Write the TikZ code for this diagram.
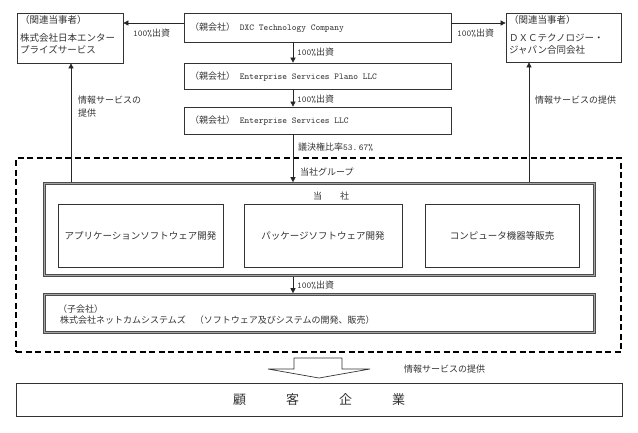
\documentclass[tikz,border=0pt]{standalone}
\usepackage{fontspec}
\setmainfont{Noto Sans CJK JP}
\usetikzlibrary{arrows.meta}
\newcommand{\lt}[1]{{\ttfamily #1}}
\tikzset{
  bx/.style={draw=black!80, line width=0.7pt, inner sep=0pt},
  frm/.style={draw=black!70, line width=0.6pt, double=black!35, double distance=1.2pt, inner sep=0pt},
  arr/.style={draw=black!85, line width=0.6pt, -{Triangle[length=5pt,width=5pt]}},
  lab/.style={font=\fontsize{9}{13}\selectfont, text=black!80, inner sep=0pt, anchor=west},
  txt/.style={font=\fontsize{9.5}{12}\selectfont, text=black!80, inner sep=0pt},
}
\begin{document}
\begin{tikzpicture}[x=1pt,y=-1pt]
\useasboundingbox (0,0) rectangle (638,432);
% boxes
\node[bx, minimum width=106pt, minimum height=50pt] (rel1) at (70,38) {};
\node[bx, minimum width=115pt, minimum height=49pt] (rel2) at (563.5,37.5) {};
\node[bx, minimum width=267pt, minimum height=29pt] (dxc) at (317.5,27.5) {};
\node[bx, minimum width=267pt, minimum height=26pt] (plano) at (317.5,76) {};
\node[bx, minimum width=267pt, minimum height=27pt] (esl) at (317.5,120.5) {};
\node[draw=black, line width=1.3pt, dash pattern=on 6pt off 3.5pt, minimum width=605pt, minimum height=194pt, inner sep=0pt] (grp) at (318.5,255) {};
\node[frm, minimum width=550pt, minimum height=92pt] (tosha) at (319.5,229.5) {};
\node[bx, minimum width=165pt, minimum height=63pt, txt] (b1) at (140.5,235.5) {アプリケーションソフトウェア開発};
\node[bx, minimum width=158pt, minimum height=63pt, txt] (b2) at (323,235.5) {パッケージソフトウェア開発};
\node[bx, minimum width=154pt, minimum height=63pt, txt] (b3) at (502,235.5) {コンピュータ機器等販売};
\node[frm, minimum width=550pt, minimum height=38pt] (sub) at (319.5,313.5) {};
\node[bx, minimum width=606pt, minimum height=33pt, font=\fontsize{13}{15}\selectfont, text=black!80] (cust) at (319,399.5) {顧\hspace{40pt}客\hspace{40pt}企\hspace{40pt}業};
% box texts
\node[txt, anchor=west] (t1a) at (20,20) {（関連当事者）};
\node[txt, anchor=west, align=left] (t1b) at (20,43.5) {株式会社日本エンター\\プライズサービス};
\node[txt, anchor=west] (t2a) at (509,20) {（関連当事者）};
\node[txt, anchor=west, align=left] (t2b) at (509,44.5) {ＤＸＣテクノロジー・\\ジャパン合同会社};
\node[lab, font=\fontsize{9}{11}\selectfont] (t3) at (190,28) {（親会社）\lt{ DXC Technology Company}};
\node[lab, font=\fontsize{9}{11}\selectfont] (t4) at (190,77) {（親会社）\lt{ Enterprise Services Plano LLC}};
\node[lab, font=\fontsize{9}{11}\selectfont] (t5) at (190,121) {（親会社）\lt{ Enterprise Services LLC}};
\node[lab] (t6) at (313,196) {当\hspace{18pt}社};
\node[lab, align=left, font=\fontsize{9}{10.5}\selectfont] (t7) at (58,314.5) {（子会社）\\\hspace{2pt}株式会社ネットカムシステムズ　（ソフトウェア及びシステムの開発、販売）};
% connectors
\coordinate (col) at (293,0);
\coordinate (lx) at (71,0);
\coordinate (rx) at (529,0);
\draw[arr] ([yshift=4.5pt]dxc.west -| dxc.west) -- ([yshift=4.5pt]dxc.west -| rel1.east);
\draw[arr] ([yshift=4.5pt]dxc.east -| dxc.east) -- ([yshift=4.5pt]dxc.east -| rel2.west);
\draw[arr] (dxc.south -| col) -- (plano.north -| col);
\draw[arr] (plano.south -| col) -- (esl.north -| col);
\draw[arr] (esl.south -| col) -- ([yshift=1pt]tosha.north -| col);
\draw[arr] ([yshift=-1pt]tosha.south -| col) -- ([yshift=1pt]sub.north -| col);
\draw[arr] ([yshift=1pt]tosha.north -| lx) -- (rel1.south -| lx);
\draw[arr] ([yshift=1pt]tosha.north -| rx) -- (rel2.south -| rx);
% labels
\node[lab] (l1) at (133,33) {\lt{100\%}出資};
\node[lab] (l2) at (457,33) {\lt{100\%}出資};
\node[lab] (l3) at (297,52) {\lt{100\%}出資};
\node[lab] (l4) at (297,99) {\lt{100\%}出資};
\node[lab] (l5) at (298,147) {議決権比率\lt{53.\,67\%}};
\node[lab] (l6) at (300,172) {当社グループ};
\node[lab] (l7) at (297,285) {\lt{100\%}出資};
\node[lab, align=left] (l8) at (78,106.5) {情報サービスの\\提供};
\node[lab] (l9) at (535,100) {情報サービスの提供};
\node[lab] (l10) at (404,369) {情報サービスの提供};
% big hollow arrow
\draw[draw=black!80, line width=0.7pt, line join=miter] (294,358) -- (342,358) -- (342,369) -- (370,369) -- (319,378) -- (268,369) -- (294,369) -- cycle;
\end{tikzpicture}
\end{document}
